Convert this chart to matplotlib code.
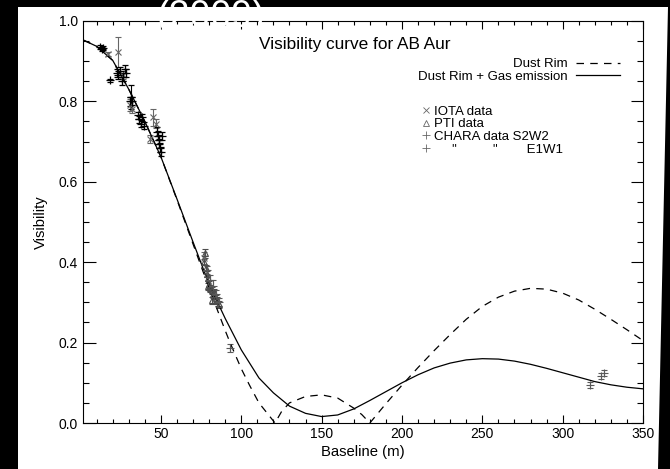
import matplotlib
matplotlib.use("Agg")
import matplotlib.pyplot as plt
from matplotlib.lines import Line2D
from matplotlib.patches import Polygon
from matplotlib.ticker import MultipleLocator

plt.rcParams['font.family'] = ['Liberation Sans', 'DejaVu Sans']

# ---- model curves ----
rim_b = [2, 10, 20, 30, 40, 50, 60, 70, 80, 90, 93, 100, 105, 111, 116, 121,
         125, 130, 140, 150, 160, 170, 175, 180, 185, 190, 200, 210, 220, 230,
         240, 250, 260, 270, 280, 290, 300, 310, 320, 330, 340, 350]
rim_v = [0.952, 0.937, 0.902, 0.83, 0.75, 0.662, 0.555, 0.445, 0.335, 0.23, 0.2,
         0.135, 0.095, 0.05, 0.025, 0.0, 0.028, 0.05, 0.066, 0.07, 0.062, 0.037,
         0.021, 0.0, 0.024, 0.048, 0.094, 0.138, 0.18, 0.22, 0.258, 0.29, 0.313,
         0.328, 0.335, 0.333, 0.323, 0.306, 0.283, 0.258, 0.232, 0.205]

gas_b = [2, 10, 20, 30, 40, 50, 60, 70, 80, 90, 100, 111, 120, 130, 140, 150,
         160, 170, 180, 190, 200, 210, 220, 230, 240, 250, 260, 270, 280, 290,
         300, 310, 320, 330, 340, 350]
gas_v = [0.952, 0.937, 0.902, 0.83, 0.75, 0.662, 0.557, 0.45, 0.345, 0.26, 0.182,
         0.112, 0.075, 0.042, 0.024, 0.016, 0.02, 0.035, 0.056, 0.078, 0.1, 0.12,
         0.137, 0.149, 0.157, 0.16, 0.159, 0.154, 0.146, 0.136, 0.125, 0.114,
         0.103, 0.095, 0.089, 0.085]

# ---- measurements ----
iota_b = [17.3, 23.3, 26.5, 30.5, 32.0, 43.3, 45.1, 47.0, 77.0]
iota_v = [0.918, 0.922, 0.865, 0.79, 0.78, 0.707, 0.76, 0.745, 0.41]
iota_e = [0.004, 0.037, 0.01, 0.015, 0.01, 0.01, 0.02, 0.012, 0.015]

pti_b = [77.3, 76.5, 77.8, 78.5, 79.3, 79.5, 80.0, 80.8, 81.5, 82.0, 82.3, 83.0,
         84.0, 85.0, 86.0]
pti_v = [0.422, 0.40, 0.385, 0.37, 0.36, 0.34, 0.345, 0.335, 0.33, 0.305, 0.32,
         0.325, 0.31, 0.305, 0.295]
pti_e = [0.012, 0.008, 0.008, 0.008, 0.008, 0.008, 0.008, 0.008, 0.008, 0.008,
         0.008, 0.008, 0.008, 0.008, 0.008]

s2w2_b = [12.0, 13.2, 14.2, 18.4, 22.5, 23.5, 24.5, 25.5, 26.5, 27.5, 28.0,
          30.5, 31.5, 32.3, 35.5, 36.5, 37.5, 38.5, 39.5, 47.5, 48.0, 48.5,
          49.0, 49.5, 50.0, 50.5]
s2w2_v = [0.935, 0.93, 0.932, 0.852, 0.87, 0.865, 0.875, 0.85, 0.86, 0.88, 0.87,
          0.80, 0.81, 0.80, 0.765, 0.755, 0.745, 0.76, 0.74, 0.725, 0.715, 0.705,
          0.695, 0.685, 0.675, 0.715]
s2w2_e = [0.005, 0.005, 0.005, 0.004, 0.01, 0.01, 0.01, 0.01, 0.01, 0.01, 0.01,
          0.012, 0.03, 0.01, 0.008, 0.008, 0.008, 0.008, 0.008, 0.012, 0.012,
          0.012, 0.012, 0.012, 0.012, 0.01]

e1w1_b = [78.5, 80.5, 82.5, 84.5, 86.0, 92.9, 317.0, 324.0, 325.5]
e1w1_v = [0.38, 0.355, 0.34, 0.32, 0.30, 0.187, 0.094, 0.117, 0.125]
e1w1_e = [0.01, 0.012, 0.015, 0.012, 0.01, 0.01, 0.008, 0.007, 0.007]

W, H = 670, 469
fig = plt.figure(figsize=(6.7, 4.69), dpi=100, facecolor='black')
# white scanned page on black
fig.add_artist(Polygon([(18 / W, 0), (18 / W, 1 - 7 / H), (668 / W, 1 - 7 / H),
                        (658 / W, 0)], closed=True, transform=fig.transFigure,
                       facecolor='white', edgecolor='none', zorder=-10))

ax = fig.add_axes([83 / W, 1 - 423 / H, (643 - 83) / W, (423 - 21) / H])
ax.set_facecolor('white')

eb = dict(elinewidth=0.8, capsize=2.5, capthick=0.8, ls='none')
ax.errorbar(iota_b, iota_v, yerr=iota_e, fmt='x', color='0.4', ms=5, mew=0.8, **eb)
ax.errorbar(pti_b, pti_v, yerr=pti_e, fmt='^', color='0.3', mfc='none', ms=5,
            mew=0.8, **eb)
ax.errorbar(s2w2_b, s2w2_v, yerr=s2w2_e, fmt='+', color='black', ms=6, mew=0.9, **eb)
ax.errorbar(e1w1_b, e1w1_v, yerr=e1w1_e, fmt='+', color='0.35', ms=6, mew=0.8, **eb)

dash, = ax.plot(rim_b, rim_v, color='black', lw=0.9, dashes=(6, 5))
solid, = ax.plot(gas_b, gas_v, color='black', lw=0.9)

ax.set_xlim(1.5, 350)
ax.set_ylim(0, 1.0)
ax.xaxis.set_major_locator(MultipleLocator(50))
ax.xaxis.set_minor_locator(MultipleLocator(10))
ax.yaxis.set_major_locator(MultipleLocator(0.2))
ax.yaxis.set_minor_locator(MultipleLocator(0.05))
ax.yaxis.set_major_formatter(lambda v, p: f'{v:.1f}')
ax.tick_params(which='both', direction='in', top=True, right=True,
               labelsize=10, width=0.8, colors='black')
ax.tick_params(axis='x', which='major', length=6, pad=3)
ax.tick_params(axis='x', which='minor', length=3)
ax.tick_params(axis='y', which='major', length=9, pad=3.5)
ax.tick_params(axis='y', which='minor', length=4.5)
for s in ax.spines.values():
    s.set_linewidth(0.8)

ax.set_xlabel('Baseline (m)', fontsize=10.7, labelpad=3)
ax.set_ylabel('Visibility', fontsize=10.6, labelpad=8)

leg1 = ax.legend([dash, solid], ['Dust Rim', 'Dust Rim + Gas emission'],
                 markerfirst=False, frameon=False, loc='upper right',
                 bbox_to_anchor=(0.959, 0.908), handlelength=3.3, handletextpad=0.7,
                 labelspacing=0.03, fontsize=9.5, borderpad=0, borderaxespad=0)
ax.add_artist(leg1)

mk = [Line2D([], [], marker='x', ls='none', color='0.4', ms=5, mew=0.6),
      Line2D([], [], marker='^', ls='none', color='0.4', mfc='none', ms=5, mew=0.6),
      Line2D([], [], marker='+', ls='none', color='0.4', ms=6, mew=0.6),
      Line2D([], [], marker='+', ls='none', color='0.4', ms=6, mew=0.6)]
ax.legend(mk, ['IOTA data', 'PTI data', 'CHARA data S2W2',
               '     "          "        E1W1'],
          frameon=False, loc='upper left', bbox_to_anchor=(0.604, 0.79),
          handlelength=0.7, handletextpad=0.3, labelspacing=0.03, fontsize=9.5,
          borderpad=0, borderaxespad=0)

fig.text(355 / W, 1 - 44 / H, 'Visibility curve for AB Aur', ha='center',
         va='center', fontsize=12.4)
fig.text(157 / W, 1 - 27 / H, '(2009)', color='white', fontsize=27,
         ha='left', va='baseline')

fig.savefig('out.png', dpi=100, facecolor='black')
